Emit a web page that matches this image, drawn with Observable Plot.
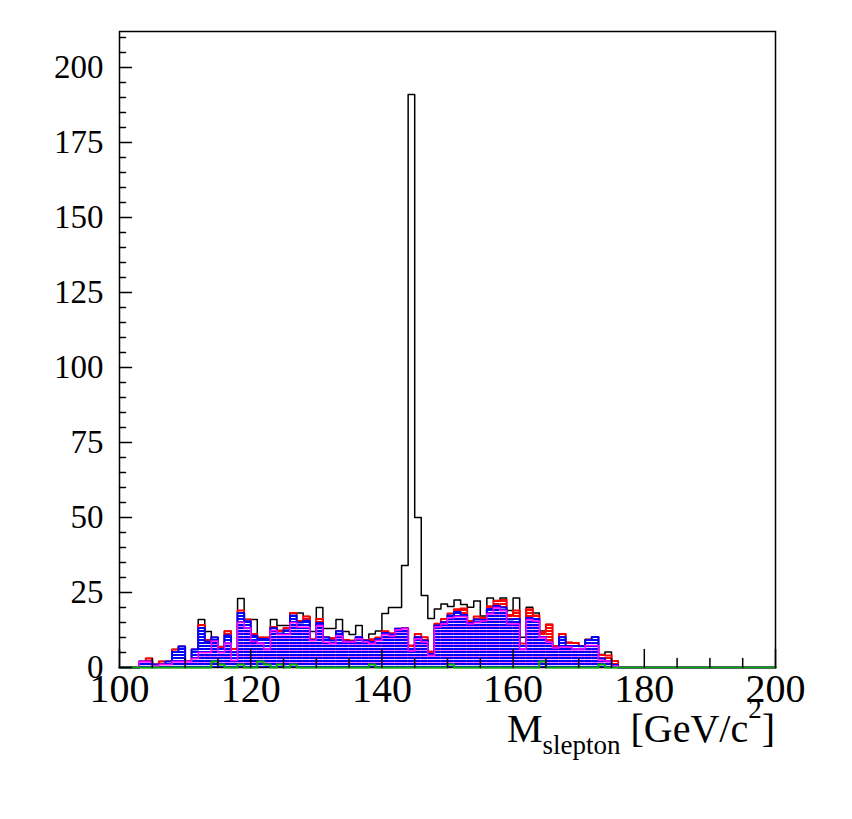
<!DOCTYPE html>
<html><head><meta charset="utf-8">
<script src="https://cdn.jsdelivr.net/npm/d3@7"></script>
<script src="https://cdn.jsdelivr.net/npm/@observablehq/plot@0.6"></script>
<style>
body{margin:0;background:#fff;}
#chart{position:relative;width:852px;height:819px;}
</style>
</head><body><div id="chart"></div>
<script>
// ---- data (bins of 1 GeV, first listed bin starts at 103 GeV) ----
const firstBin = 103;
const binWidth = 1;
const xDomain = [100, 200];
const yDomain = [0, 212];
const xTicksMajor = [100, 120, 140, 160, 180, 200];
const xTicksMinor = [105,110,115,125,130,135,145,150,155,165,170,175,185,190,195];
const yTicksMajor = [0, 25, 50, 75, 100, 125, 150, 175, 200];
const yTicksMinor = [5,10,15,20,30,35,40,45,55,60,65,70,80,85,90,95,105,110,115,120,130,135,140,145,155,160,165,170,180,185,190,195,205,210];

// black outline: total (signal + background)
const total = [2,3,1,2,2,6,7,2,6,16,12,10,7,12.1,6.2,23,16,16,10,10,16,14,14,18.2,18.2,17,12,20,13,13,16,12,11,14,9.2,11.2,12.2,18,20,20,34,191,50,24,16.3,19.5,21.2,20.3,22.5,21,20.1,22.2,17.2,23.2,22.3,23.2,19,23.2,10.1,20.1,18.2,12.2,14.3,7.2,11.2,8.3,8.2,7.2,9.3,10.2,4.3,5.2,2.2];
// stacked background, cumulative level at the top of each layer
const stackRed = [2,3,1,2,2,6,7,2,6,14.2,9.2,10,6.8,12.1,6.2,19,16,11.2,10,10,13.5,12.3,13.2,18.2,15.5,17,9.4,16.2,10.1,9.8,12.2,9.2,9,10.1,9.2,9.4,10,12.1,11.4,12.9,13.1,7.3,11.2,10.1,5.3,14.6,16.2,18,19.4,19.7,15.5,17,16.5,20.4,22.2,22.5,17.5,19,8,19.4,17.3,11.8,14.3,7.1,11.2,8.3,8.2,7.2,9.3,10.2,4.2,4,2.2];
const stackBlue = [2,2,1,1,2,5.2,7,2,6,13.2,8.6,10,6.2,10.7,5.1,18.2,15.4,10.6,9.5,9.5,13.1,11.3,12.4,17.3,15,15.6,9.2,14.8,10,9,12.1,8.7,8.7,10.1,9,8.5,9.5,11.5,11,12.9,13,6.2,10.1,9,4.5,14,15.1,17.3,18.5,17.5,14.8,16,15.8,19.5,20.5,20,16,16.2,7.2,16.5,16.2,10.1,8.4,6.6,10.1,7.2,7.2,7.1,9.2,10.2,3,2.2,0.8];
const stackMagenta = [2,2,0.5,1,1,2,2,2,3,5,5,8.8,5,8.2,2.3,15.1,13.2,8.7,8.2,6.2,12.3,11,11,15,13.4,13.4,9,14,8.4,8,10.5,8.5,8.5,9.5,8.5,8,9,11,10.5,12.5,12.9,5.5,9.5,8.5,4,13.5,14.5,16.5,17,17,14.5,15,15.5,18,20,19,14.5,14.5,6.2,16,15.5,10,8.4,6.5,6.8,6.8,6.2,6.2,7.3,7.3,2.3,2.2,0.5];
const stackGreen = [0,0,0,0,0,0,0,0,0,0,0,2,1,0,0,1,0,0,2,1,0,1,0,1,0,0,0,0,0,0,0,0,0,0,0,1,0,0,0,0,0,0,0,0,0,0,0,1,0,0,0,0,0,0,0,0,0,0,0,0,0,2,0,0,0,0,0,0,0,0,1,0,0];

// ---- build bin table over the full axis range (empty bins = 0) ----
const nBins = (xDomain[1] - xDomain[0]) / binWidth;
const rows = d3.range(nBins).map(i => {
  const lo = xDomain[0] + i * binWidth;
  const j = Math.round((lo - firstBin) / binWidth);
  const has = j >= 0 && j < total.length;
  return {
    lo, hi: lo + binWidth,
    total: has ? total[j] : 0,
    red: has ? stackRed[j] : 0,
    blue: has ? stackBlue[j] : 0,
    magenta: has ? stackMagenta[j] : 0,
    green: has ? stackGreen[j] : 0
  };
});
// step points: each bin's low edge, plus closing point at the last high edge
const last = rows[rows.length - 1];
const steps = rows.map(r => ({x: r.lo, ...r})).concat([{...last, x: last.hi}]);

const tickShape = {draw(ctx, l) { ctx.moveTo(0, 0); ctx.lineTo(0, -l); }};
const serif = "'Liberation Serif', 'Times New Roman', serif";

const chart = Plot.plot({
  width: 852, height: 819,
  marginLeft: 119, marginRight: 77, marginTop: 31, marginBottom: 152,
  style: {background: "white", fontFamily: serif, overflow: "visible"},
  x: {domain: xDomain},
  y: {domain: yDomain},
  marks: [
    Plot.frame({stroke: "#000", strokeWidth: 1.5}),
    // total outline (drawn first, stack over it)
    Plot.line(steps, {x: "x", y: "total", curve: "step-after", stroke: "#000", strokeWidth: 1.5}),
    // red layer
    Plot.rectY(rows, {x1: "lo", x2: "hi", y: "red", fill: "url(#hRed)", inset: 0}),
    Plot.line(steps, {x: "x", y: "red", curve: "step-after", stroke: "#ff0000", strokeWidth: 2}),
    // blue layer
    Plot.rectY(rows, {x1: "lo", x2: "hi", y: "blue", fill: "url(#hBlue)", inset: 0}),
    Plot.line(steps, {x: "x", y: "blue", curve: "step-after", stroke: "#0000ff", strokeWidth: 2}),
    // magenta layer
    Plot.rectY(rows, {x1: "lo", x2: "hi", y: "magenta", fill: "url(#hMag)", inset: 0}),
    Plot.line(steps, {x: "x", y: "magenta", curve: "step-after", stroke: "#ff00ff", strokeWidth: 1.5}),
    // green layer
    Plot.line(steps, {x: "x", y: "green", curve: "step-after", stroke: "#00b000", strokeWidth: 2}),
    // ticks (inward)
    Plot.vector(yTicksMajor, {y: d => d, frameAnchor: "left", length: 12, rotate: 90, anchor: "start", shape: tickShape, stroke: "#000", strokeWidth: 1.5}),
    Plot.vector(yTicksMinor, {y: d => d, frameAnchor: "left", length: 6, rotate: 90, anchor: "start", shape: tickShape, stroke: "#000", strokeWidth: 1.5}),
    Plot.vector(xTicksMajor, {x: d => d, frameAnchor: "bottom", length: 18, rotate: 0, anchor: "start", shape: tickShape, stroke: "#000", strokeWidth: 1.5}),
    Plot.vector(xTicksMinor, {x: d => d, frameAnchor: "bottom", length: 9, rotate: 0, anchor: "start", shape: tickShape, stroke: "#000", strokeWidth: 1.5}),
    Plot.axisY({ticks: yTicksMajor, tickSize: 0, tickPadding: 16, fontSize: 33, fontFamily: serif, label: null, tickFormat: d => String(d), fill: "#000"}),
    Plot.axisX({ticks: xTicksMajor, tickSize: 0, tickPadding: 6, fontSize: 40, fontFamily: serif, label: null, tickFormat: d => String(d), fill: "#000"})
  ]
});

const svg = d3.select(chart);
svg.insert("defs", ":first-child").html(`
  <pattern id="hRed" patternUnits="userSpaceOnUse" width="6" height="3">
    <rect width="6" height="3" fill="#ffffff"/><rect width="6" height="2" fill="#ff0000"/>
  </pattern>
  <pattern id="hBlue" patternUnits="userSpaceOnUse" width="6" height="3">
    <rect width="6" height="3" fill="#ffffff"/><rect width="6" height="2" fill="#0000ff"/>
  </pattern>
  <pattern id="hMag" patternUnits="userSpaceOnUse" width="6" height="6">
    <rect y="2" width="6" height="1" fill="#ff66ff"/><rect y="5" width="6" height="1" fill="#f4c8f8"/>
  </pattern>`);

// axis title
const xs = chart.scale("x"), ys = chart.scale("y");
const t = svg.append("text")
  .attr("x", xs.apply(xDomain[1]))
  .attr("y", ys.apply(0) + 75)
  .attr("text-anchor", "end")
  .attr("font-family", serif)
  .attr("font-size", 40)
  .attr("fill", "#000");
t.append("tspan").text("M");
t.append("tspan").attr("font-size", 27).attr("dy", 12).text("slepton");
t.append("tspan").attr("dy", -12).text(" [GeV/c");
t.append("tspan").attr("font-size", 27).attr("dy", -24).text("2");
t.append("tspan").attr("dy", 24).text("]");

document.getElementById("chart").appendChild(chart);
</script>
</body></html>
